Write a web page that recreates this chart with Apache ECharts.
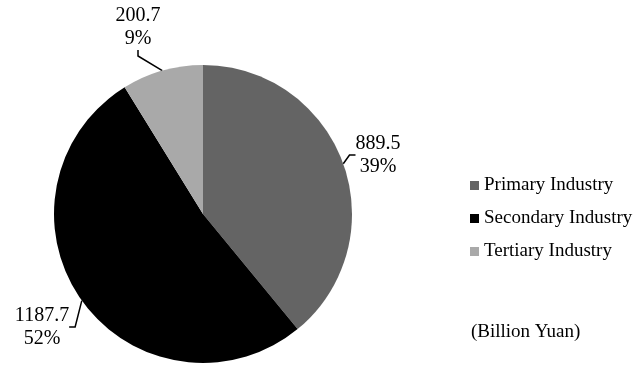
<!DOCTYPE html>
<html>
<head>
<meta charset="utf-8">
<script src="https://cdn.jsdelivr.net/npm/echarts@6/dist/echarts.min.js"></script>
<style>
  html, body { margin: 0; padding: 0; background: #fff; }
  #chart { width: 642px; height: 368px; }
</style>
</head>
<body>
<div id="chart"></div>
<script>
// Output by industry, billion yuan
const categories = ['Primary Industry', 'Secondary Industry', 'Tertiary Industry'];
const values = [889.5, 1187.7, 200.7];
const percents = ['39%', '52%', '9%'];
const colors = ['#646464', '#000000', '#a9a9a9'];
const unitNote = '(Billion Yuan)';

// Where each value label block is centred (pixels)
const labelSpots = [[378, 155], [42, 327], [138, 27]];

const serif = '"Liberation Serif", "Times New Roman", serif';

const chart = echarts.init(document.getElementById('chart'));
chart.setOption({
  animation: false,
  backgroundColor: '#ffffff',
  color: colors,
  legend: {
    orient: 'vertical',
    left: 465,
    top: 171,
    itemWidth: 9,
    itemHeight: 9,
    itemGap: 14,
    icon: 'rect',
    textStyle: { fontFamily: serif, fontSize: 19, color: '#000' },
    data: categories
  },
  graphic: [{
    type: 'text',
    left: 471,
    top: 323,
    style: { text: unitNote, font: '19px ' + serif, fill: '#000' }
  }],
  series: [{
    type: 'pie',
    center: [203, 214],
    radius: 149,
    startAngle: 90,
    clockwise: true,
    avoidLabelOverlap: false,
    itemStyle: { borderWidth: 0 },
    label: {
      show: true,
      position: 'outside',
      fontFamily: serif,
      fontSize: 20,
      lineHeight: 23,
      color: '#000',
      align: 'center',
      formatter: p => values[p.dataIndex] + '\n' + percents[p.dataIndex]
    },
    labelLine: {
      show: true,
      length: 12,
      length2: 6,
      lineStyle: { color: '#000', width: 1.5 }
    },
    labelLayout: p => ({
      x: labelSpots[p.dataIndex][0],
      y: labelSpots[p.dataIndex][1],
      align: 'center',
      verticalAlign: 'middle'
    }),
    emphasis: { disabled: true },
    data: categories.map((c, i) => ({ name: c, value: values[i] }))
  }]
});
</script>
</body>
</html>
